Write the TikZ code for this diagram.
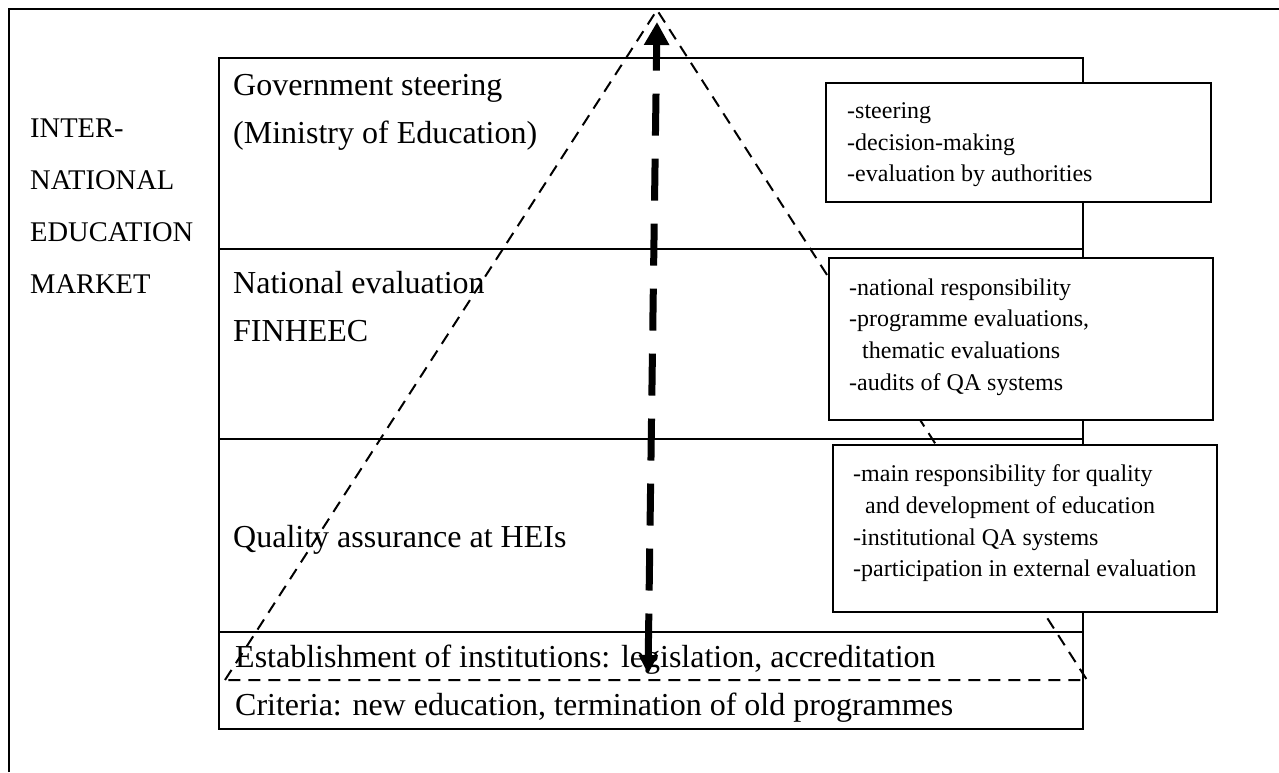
\documentclass[tikz,border=0pt]{standalone}
\usepackage{fontspec}
\setmainfont{Liberation Serif}
\usetikzlibrary{arrows.meta}
\begin{document}
\begin{tikzpicture}[x=1pt,y=-1pt,
    level/.style={anchor=base west,inner sep=0pt,font=\fontsize{32}{38}\selectfont},
    market/.style={anchor=base west,inner sep=0pt,font=\fontsize{28.5}{34}\selectfont},
    note/.style={anchor=base west,inner sep=0pt,font=\fontsize{24}{29}\selectfont},
    notebox/.style={draw,line width=2pt,fill=white,anchor=north west,inner sep=0pt}]
    \useasboundingbox (0,0) rectangle (1279,772);
    \draw [line width=2.5pt] (9,772) -- (9,9) -- (1279,9);
    % the levels
    \draw [line width=2pt] (219,58) rectangle (1083,729);
    \foreach \y in {249,439,632} %
        \draw [line width=2pt] (219,\y) -- (1083,\y);
    \node [level] (gov) at (233,95) {Government steering};
    \node [level] (min) at (233,143) {(Ministry of Education)};
    \node [level] (nat) at (233,293) {National evaluation};
    \node [level] (fin) at (233,341) {FINHEEC};
    \node [level] (qa) at (233,547) {Quality assurance at HEIs};
    \node [level] (est) at (235,667) {Establishment of institutions: legislation, accreditation};
    \node [level] (crit) at (235,715) {Criteria: new education, termination of old programmes};
    % market text
    \node [market] (m1) at (30,137) {INTER-};
    \node [market] (m2) at (30,189) {NATIONAL};
    \node [market] (m3) at (30,241) {EDUCATION};
    \node [market] (m4) at (30,293) {MARKET};
    % pyramid and arrow
    \coordinate (apex) at (657,10);
    \coordinate (bl) at (225,680);
    \coordinate (br) at (1087,680);
    \draw [line width=2pt,dash pattern=on 12pt off 8pt] (bl) -- (apex) -- (br) -- cycle;
    \coordinate (high) at (657,22);
    \coordinate (low) at (648,674);
    \draw [line width=7pt,dash pattern=on 42pt off 23pt,dash phase=15pt,
        {Triangle[width=24pt,length=23pt]}-{Triangle[width=18pt,length=19pt]}] (high) -- (low);
    % notes
    \node [notebox,minimum width=385pt,minimum height=119pt] (b1) at (825,82) {};
    \node [note] (s1) at (847,118) {-steering};
    \node [note] (s2) at (847,150) {-decision-making};
    \node [note] (s3) at (847,181) {-evaluation by authorities};
    \node [notebox,minimum width=384pt,minimum height=162pt] (b2) at (828,257) {};
    \node [note] (n1) at (849,295) {-national responsibility};
    \node [note] (n2) at (849,326) {-programme evaluations,};
    \node [note] (n3) at (862,358) {thematic evaluations};
    \node [note] (n4) at (849,390) {-audits of QA systems};
    \node [notebox,minimum width=384pt,minimum height=167pt] (b3) at (832,444) {};
    \node [note] (h1) at (853,481) {-main responsibility for quality};
    \node [note] (h2) at (865,513) {and development of education};
    \node [note] (h3) at (853,545) {-institutional QA systems};
    \node [note] (h4) at (853,576) {-participation in external evaluation};
\end{tikzpicture}
\end{document}
